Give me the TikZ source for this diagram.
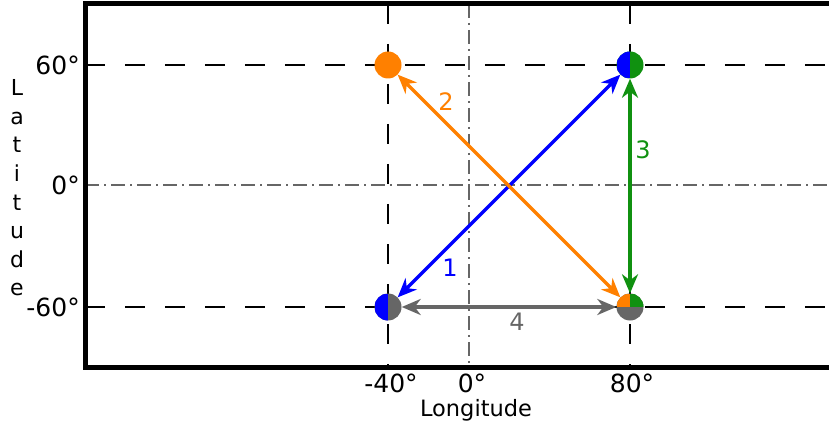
\documentclass[tikz,border=0pt]{standalone}
\usepackage{fontspec}
\setmainfont{DejaVu Sans}
\usetikzlibrary{arrows.meta}
\definecolor{corange}{RGB}{255,128,0}
\definecolor{cblue}{RGB}{0,0,255}
\definecolor{cgreen}{RGB}{16,145,16}
\definecolor{cgray}{RGB}{102,102,102}
\begin{document}
\begin{tikzpicture}[x=1pt,y=-1pt,
  dot/.style={circle,minimum size=27pt,inner sep=0pt},
  arr/.style={<->,>={Stealth[length=19pt,width=16pt,inset=6pt]},line width=3.3pt},
  gridd/.style={line width=2.6pt,dash pattern=on 20pt off 20pt},
  griddd/.style={cgray,line width=1.4pt,dash pattern=on 14pt off 5pt on 2pt off 5pt},
  ticklbl/.style={font=\fontsize{25}{29}\selectfont,inner sep=0pt},
  numlbl/.style={font=\fontsize{24}{28}\selectfont,inner sep=0pt}]
\useasboundingbox (0,0) rectangle (829,430);
\clip (0,0) rectangle (829,430);
% grid lines
\draw[gridd] (85,65) -- (829,65);
\draw[gridd] (85,307) -- (829,307);
\draw[gridd] (388,4) -- (388,367);
\draw[gridd] (630,4) -- (630,367);
\draw[griddd] (85,185) -- (829,185);
\draw[griddd] (469,4) -- (469,367);
% frame
\draw[line width=5pt] (85,4) rectangle (850,367);
% dots (nodes)
\node[dot,fill=corange] (tl) at (388,65) {};
\node[dot,fill=cgreen,path picture={\fill[cblue] (path picture bounding box.north west) rectangle (path picture bounding box.south);}] (tr) at (630,65) {};
\node[dot,fill=cgray,path picture={\fill[cblue] (path picture bounding box.north west) rectangle (path picture bounding box.south);}] (bl) at (388,307) {};
\node[dot,fill=cgray,path picture={\fill[corange] (path picture bounding box.north west) rectangle (path picture bounding box.center);\fill[cgreen] (path picture bounding box.north) rectangle (path picture bounding box.east);}] (br) at (630,307) {};
% arrows
\draw[arr,cblue] (bl) -- (tr);
\draw[arr,corange] (tl) -- (br);
\draw[arr,cgreen] (tr) -- (br);
\draw[arr,cgray] (bl) -- (br);
% number labels
\node[numlbl,text=cblue] (n1) at (450,268) {1};
\node[numlbl,text=corange] (n2) at (446,102) {2};
\node[numlbl,text=cgreen] (n3) at (643,150) {3};
\node[numlbl,text=cgray] (n4) at (517,322) {4};
% tick labels
\node[ticklbl,anchor=east] (y60) at (80,65) {60°};
\node[ticklbl,anchor=east] (y0) at (80,185) {0°};
\node[ticklbl,anchor=east] (ym60) at (80,307) {-60°};
\node[ticklbl] (xm40) at (391,383) {-40°};
\node[ticklbl] (x0) at (472,383) {0°};
\node[ticklbl] (x80) at (632,383) {80°};
\node[font=\fontsize{22.5}{26}\selectfont,inner sep=0pt] (xlab) at (476,410) {Longitude};
\node[font=\fontsize{22}{28.6}\selectfont,align=center,inner sep=0pt] (ylab) at (17,188) {L\\a\\t\\i\\t\\u\\d\\e};
\end{tikzpicture}
\end{document}
